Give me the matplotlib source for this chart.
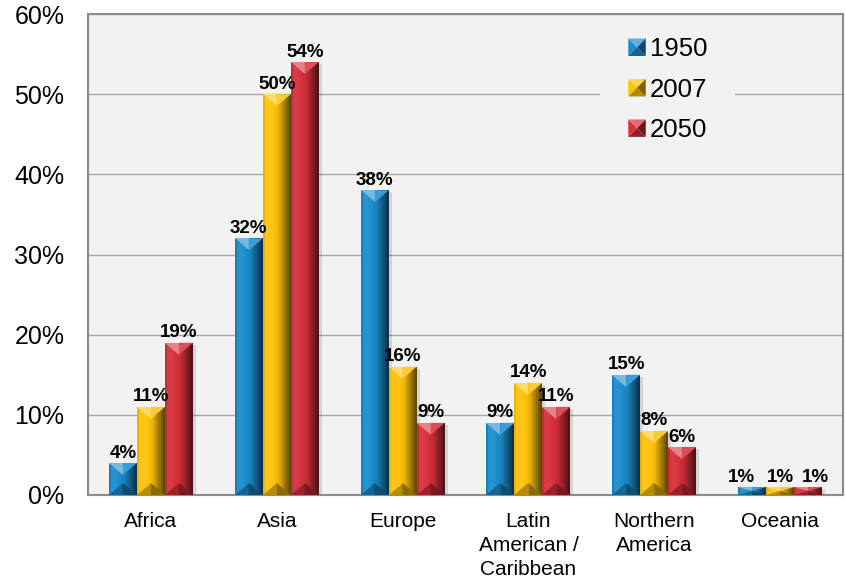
import matplotlib
matplotlib.use("Agg")
import matplotlib.pyplot as plt
from matplotlib.patches import Polygon, Rectangle
from matplotlib.legend_handler import HandlerBase
from matplotlib.colors import to_rgb
import numpy as np

# ---- data -------------------------------------------------------------
regions = ["Africa", "Asia", "Europe", "Latin\nAmerican /\nCaribbean",
           "Northern\nAmerica", "Oceania"]
years = ["1950", "2007", "2050"]
share_1950 = [4, 32, 38, 9, 15, 1]
share_2007 = [11, 50, 16, 14, 8, 1]
share_2050 = [19, 54, 9, 11, 6, 1]
y_ticks = [0, 10, 20, 30, 40, 50, 60]
y_tick_labels = ["0%", "10%", "20%", "30%", "40%", "50%", "60%"]

series = [share_1950, share_2007, share_2050]
colors = ["#1a8ccc", "#ffc20a", "#d6303a"]

plt.rcParams["font.family"] = ["Liberation Sans", "DejaVu Sans"]

FW, FH = 846, 584
fig = plt.figure(figsize=(FW / 100, FH / 100), dpi=100)
fig.patch.set_facecolor("white")
AX_L, AX_B, AX_W, AX_H = 88, 89, 755, 481
ax = fig.add_axes([AX_L / FW, AX_B / FH, AX_W / FW, AX_H / FH])
bg = "#f2f2f2"
ax.set_facecolor(bg)

XLIM = (-0.5, len(regions) - 0.5)
YLIM = (0, 60)
ax.set_xlim(*XLIM)
ax.set_ylim(*YLIM)
# data units per pixel
dx = (XLIM[1] - XLIM[0]) / AX_W
dy = (YLIM[1] - YLIM[0]) / AX_H


def shade(c, f):
    c = np.array(to_rgb(c))
    if f >= 1:
        return tuple(c + (1 - c) * (f - 1))
    return tuple(c * f)


# horizontal lighting profile across a bar (left -> right)
prof_u = [0.0, 0.12, 0.3, 0.55, 0.8, 1.0]
prof_f = [0.86, 1.07, 1.04, 0.93, 0.6, 0.33]


def bevel(bar, color):
    x0 = bar.get_x()
    w = bar.get_width()
    h = bar.get_height()
    x1 = x0 + w
    xc = x0 + w / 2
    top = h
    h_px = h / dy
    n = 14
    edges = np.linspace(x0, x1, n + 1)
    for i in range(n):
        u = (i + 0.5) / n
        f = np.interp(u, prof_u, prof_f)
        ax.add_patch(Rectangle((edges[i], 0), edges[i + 1] - edges[i], top,
                               facecolor=shade(color, f), edgecolor="none",
                               zorder=3))
    d = min(12, h_px / 2) * dy
    # top facet
    ax.add_patch(Polygon([(x0, top), (xc, top), (xc, top - d)], closed=True,
                         facecolor=shade(color, 1.4), edgecolor="none", zorder=4))
    ax.add_patch(Polygon([(xc, top), (x1, top), (xc, top - d)], closed=True,
                         facecolor=shade(color, 1.15), edgecolor="none", zorder=4))
    # bottom facet
    ax.add_patch(Polygon([(x0, 0), (xc, 0), (xc, d)], closed=True,
                         facecolor=shade(color, 0.72), edgecolor="none", zorder=4))
    ax.add_patch(Polygon([(xc, 0), (x1, 0), (xc, d)], closed=True,
                         facecolor=shade(color, 0.55), edgecolor="none", zorder=4))
    # soft drop shadow on the right
    ax.add_patch(Rectangle((x1, 0), 3 * dx, max(top - 2 * dy, 0),
                           facecolor="#000000", alpha=0.12, edgecolor="none",
                           zorder=2.5))


class BevelHandler(HandlerBase):
    def __init__(self, color):
        super().__init__()
        self.color = color

    def create_artists(self, legend, orig_handle, xdescent, ydescent,
                       width, height, fontsize, trans):
        s = min(width, height)
        x0 = -xdescent + (width - s) / 2
        y0 = -ydescent + (height - s) / 2
        cx, cy = x0 + s / 2, y0 + s / 2
        c = self.color
        parts = [
            ([(x0, y0), (x0, y0 + s), (cx, cy)], 1.0),
            ([(x0, y0 + s), (x0 + s, y0 + s), (cx, cy)], 1.3),
            ([(x0 + s, y0), (x0 + s, y0 + s), (cx, cy)], 0.5),
            ([(x0, y0), (x0 + s, y0), (cx, cy)], 0.7),
        ]
        return [Polygon(p, closed=True, facecolor=shade(c, f),
                        edgecolor="none", transform=trans) for p, f in parts]


x = np.arange(len(regions))
bw = 0.2226
offsets = [-bw, 0, bw]
# small sideways nudges (points) so the crowded Oceania labels don't touch
label_nudge = {5: [-7.5, 0, 5.5]}
handles = []
for k, (vals, off, col, yr) in enumerate(zip(series, offsets, colors, years)):
    bars = ax.bar(x + off, vals, width=bw, color=col, zorder=3, label=yr)
    handles.append(bars[0])
    for i, (b, v) in enumerate(zip(bars, vals)):
        bevel(b, col)
        nx = label_nudge.get(i, [0, 0, 0])[k]
        ax.annotate(f"{v}%", (b.get_x() + b.get_width() / 2, v),
                    xytext=(nx, 1), textcoords="offset points",
                    ha="center", va="bottom", fontsize=13.5,
                    fontweight="bold", zorder=6)

# grid and frame
ax.set_yticks(y_ticks)
ax.set_yticklabels(y_tick_labels)
ax.set_axisbelow(True)
ax.yaxis.grid(True, color="#a6a6a6", linewidth=1.0)
ax.xaxis.grid(False)
for s in ax.spines.values():
    s.set_color("#8c8c8c")
    s.set_linewidth(1.5)
ax.tick_params(axis="y", length=0, pad=17, labelsize=18)
ax.set_xticks(x)
ax.set_xticklabels(regions, linespacing=1.36)
ax.tick_params(axis="x", length=0, pad=12, labelsize=15)

# legend area hides the grid line behind it
ax.add_patch(Rectangle((XLIM[0] + (600 - AX_L) * dx, YLIM[1] - (140 - 14) * dy),
                       135 * dx, (140 - 24) * dy, facecolor=bg,
                       edgecolor="none", zorder=0.8))

leg = ax.legend(handles, years, loc="upper left",
                bbox_to_anchor=((618 - AX_L) / AX_W, (495 - 27) / AX_H),
                borderaxespad=0,
                frameon=False, fontsize=18.5, handlelength=0.68,
                handleheight=0.68, handletextpad=0.15, labelspacing=0.64,
                borderpad=0.4,
                handler_map={h: BevelHandler(c) for h, c in zip(handles, colors)})

fig.savefig("out.png", dpi=100, facecolor="white")
